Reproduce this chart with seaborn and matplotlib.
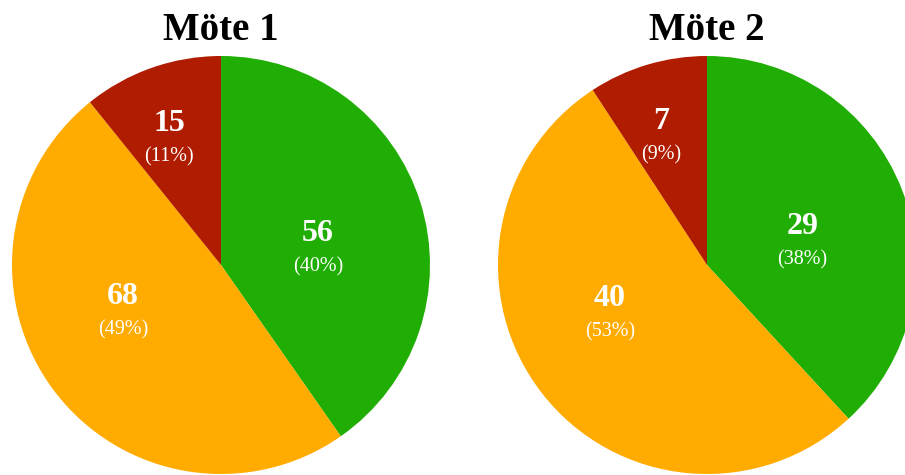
import numpy as np
import matplotlib
matplotlib.use("Agg")
import matplotlib.pyplot as plt
import seaborn as sns

# ---- data ----
categories = ["Grön", "Gul", "Röd"]
meeting_titles = ["Möte 1", "Möte 2"]
mote1_values = [56, 68, 15]
mote2_values = [29, 40, 7]
colors = ["#21AE04", "#FFAB00", "#B01C00"]

sns.set_theme(style="white")
plt.rcParams["font.family"] = ["Liberation Serif", "DejaVu Serif"]

W, H = 905, 475
fig = plt.figure(figsize=(W / 100, H / 100), dpi=100)
fig.patch.set_facecolor("white")

# layout (pixels): pie centres and radius
centres_x = [221, 707]
centre_y = 265
radius_px = 209

label_dist = [0.47, 0.52, 0.65]
label_nudge = [-8, -11, 3]

for title, vals, cx in zip(meeting_titles, [mote1_values, mote2_values], centres_x):
    ax = fig.add_axes([(cx - radius_px) / W, (H - centre_y - radius_px) / H,
                       2 * radius_px / W, 2 * radius_px / H])
    wedges, _ = ax.pie(vals, colors=colors, startangle=90, counterclock=False,
                       radius=1, wedgeprops=dict(linewidth=0))
    ax.set_xlim(-1, 1)
    ax.set_ylim(-1, 1)
    ax.set_aspect("auto")
    ax.axis("off")
    total = sum(vals)
    for w, v, d, n in zip(wedges, vals, label_dist, label_nudge):
        mid = np.deg2rad((w.theta1 + w.theta2) / 2 + n)
        x, y = d * np.cos(mid), d * np.sin(mid)
        ax.text(x, y + 0.075, f"{v}", color="white", ha="center", va="center",
                fontsize=23, fontweight="bold")
        ax.text(x, y - 0.085, f"({round(100 * v / total)}%)", color="white",
                ha="center", va="center", fontsize=14.5)
    fig.text(cx / W, (H - 40) / H, title, ha="center", va="baseline",
             fontsize=28, fontweight="bold", color="black")

fig.savefig("out.png", dpi=100, facecolor="white")
